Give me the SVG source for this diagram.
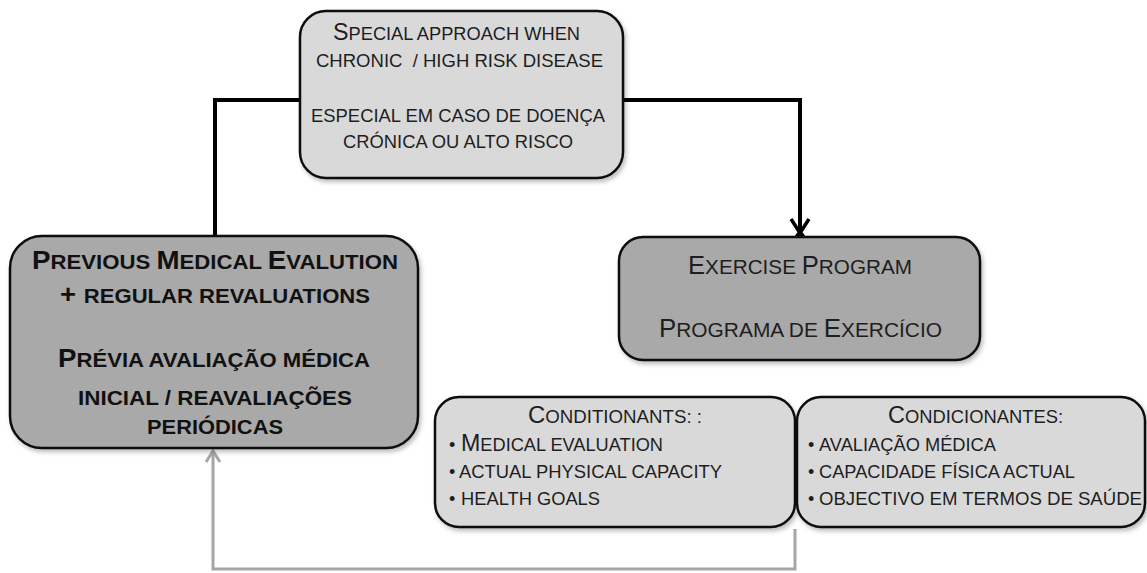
<svg xmlns="http://www.w3.org/2000/svg" width="1147" height="573" viewBox="0 0 1147 573">
<style>
.box{stroke:#111;stroke-width:2.5}
.light{fill:#d9d9d9}
.dark{fill:#a9a9a9}
.t{font-family:"Liberation Sans",Arial,sans-serif;fill:#1e1e1e}
.b{font-weight:bold;fill:#111}
.big{font-size:23px}
.sm{font-size:18px}
.eb{font-size:26px}
.es{font-size:21px}
.bb{font-size:25px}
.bs{font-size:20px}
.conn{fill:none;stroke:#000;stroke-width:4}
.fb{fill:none;stroke:#a6a6a6;stroke-width:3}
</style>
<defs>
<filter id="sh" x="-5%" y="-5%" width="115%" height="120%">
<feDropShadow dx="2" dy="3" stdDeviation="2" flood-color="#000" flood-opacity="0.25"/>
</filter>
</defs>

<g id="connectors">
<path class="conn" d="M300,100 H215 V237"/>
<path class="conn" d="M623,100 H800 V234"/>
<path d="M791,219 L800,233 L809,219" fill="none" stroke="#000" stroke-width="3.5"/>
<path d="M794,237 L800,229 L806,237 Z" fill="#000"/>
<path class="fb" d="M795,529 V569 H213 V452"/>
<path d="M206,462 L213,451 L220,462" fill="none" stroke="#a6a6a6" stroke-width="3"/>
</g>

<g id="node-special">
<rect class="box light" x="300" y="11" width="323" height="167" rx="26" filter="url(#sh)"/>
<text class="t" y="40" x="333" textLength="247" lengthAdjust="spacingAndGlyphs"><tspan class="big">S</tspan><tspan class="sm">PECIAL APPROACH WHEN</tspan></text>
<text class="t sm" x="316" y="67" textLength="287" lengthAdjust="spacingAndGlyphs" xml:space="preserve">CHRONIC  / HIGH RISK DISEASE</text>
<text class="t sm" x="311" y="122" textLength="294" lengthAdjust="spacingAndGlyphs">ESPECIAL EM CASO DE DOENÇA</text>
<text class="t sm" x="343" y="148" textLength="230" lengthAdjust="spacingAndGlyphs">CRÓNICA OU ALTO RISCO</text>
</g>

<g id="node-medical">
<rect class="box dark" x="10" y="236" width="408" height="212" rx="32" filter="url(#sh)"/>
<text class="t b" x="32" y="269" textLength="366" lengthAdjust="spacingAndGlyphs"><tspan class="bb">P</tspan><tspan class="bs">REVIOUS </tspan><tspan class="bb">M</tspan><tspan class="bs">EDICAL </tspan><tspan class="bb">E</tspan><tspan class="bs">VALUTION</tspan></text>
<text class="t b" x="60" y="303" textLength="310" lengthAdjust="spacingAndGlyphs"><tspan class="bb">+ </tspan><tspan class="bs">REGULAR REVALUATIONS</tspan></text>
<text class="t b" x="58" y="367" textLength="312" lengthAdjust="spacingAndGlyphs"><tspan class="bb">P</tspan><tspan class="bs">RÉVIA AVALIAÇÃO MÉDICA</tspan></text>
<text class="t b bs" x="78" y="405" textLength="274" lengthAdjust="spacingAndGlyphs">INICIAL / REAVALIAÇÕES</text>
<text class="t b bs" x="147" y="434" textLength="136" lengthAdjust="spacingAndGlyphs">PERIÓDICAS</text>
</g>

<g id="node-exercise">
<rect class="box dark" x="619" y="237" width="361" height="123" rx="24" filter="url(#sh)"/>
<text class="t" x="688" y="274" textLength="224" lengthAdjust="spacingAndGlyphs"><tspan class="eb">E</tspan><tspan class="es">XERCISE </tspan><tspan class="eb">P</tspan><tspan class="es">ROGRAM</tspan></text>
<text class="t" x="659" y="337" textLength="283" lengthAdjust="spacingAndGlyphs"><tspan class="eb">P</tspan><tspan class="es">ROGRAMA DE </tspan><tspan class="eb">E</tspan><tspan class="es">XERCÍCIO</tspan></text>
</g>

<g id="node-conditionants">
<rect class="box light" x="435" y="397" width="360" height="130" rx="24" filter="url(#sh)"/>
<text class="t" x="528" y="423" textLength="174" lengthAdjust="spacingAndGlyphs"><tspan class="big">C</tspan><tspan class="sm">ONDITIONANTS: :</tspan></text>
<text class="t sm" x="449" y="451">•</text>
<text class="t" x="461" y="451" textLength="202" lengthAdjust="spacingAndGlyphs"><tspan class="big">M</tspan><tspan class="sm">EDICAL EVALUATION</tspan></text>
<text class="t sm" x="449" y="478">•</text>
<text class="t sm" x="459" y="478" textLength="263" lengthAdjust="spacingAndGlyphs">ACTUAL PHYSICAL CAPACITY</text>
<text class="t sm" x="449" y="505">•</text>
<text class="t sm" x="461" y="505" textLength="139" lengthAdjust="spacingAndGlyphs">HEALTH GOALS</text>
</g>

<g id="node-condicionantes">
<rect class="box light" x="797" y="397" width="348" height="130" rx="24" filter="url(#sh)"/>
<text class="t" x="888" y="423" textLength="175" lengthAdjust="spacingAndGlyphs"><tspan class="big">C</tspan><tspan class="sm">ONDICIONANTES:</tspan></text>
<text class="t sm" x="808" y="451">•</text>
<text class="t sm" x="819" y="451" textLength="177" lengthAdjust="spacingAndGlyphs">AVALIAÇÃO MÉDICA</text>
<text class="t sm" x="808" y="478">•</text>
<text class="t sm" x="819" y="478" textLength="256" lengthAdjust="spacingAndGlyphs">CAPACIDADE FÍSICA ACTUAL</text>
<text class="t sm" x="808" y="505">•</text>
<text class="t sm" x="819" y="505" textLength="323" lengthAdjust="spacingAndGlyphs">OBJECTIVO EM TERMOS DE SAÚDE</text>
</g>
</svg>
